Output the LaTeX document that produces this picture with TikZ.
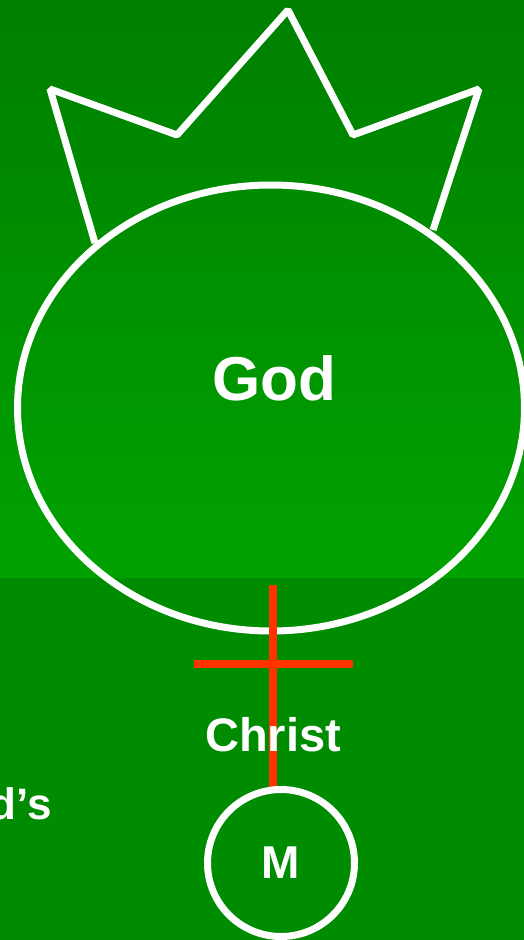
\documentclass[tikz,border=0pt]{standalone}
\usepackage{fontspec}
\setmainfont{Liberation Sans}
\usepackage{tikz}
\usetikzlibrary{shapes.geometric, calc}
\definecolor{topgreen}{RGB}{0,127,0}
\definecolor{midgreen}{RGB}{0,162,0}
\definecolor{lowgreen}{RGB}{0,140,0}
\definecolor{crossred}{RGB}{255,51,0}

\begin{document}
\begin{tikzpicture}[x=1pt,y=-1pt,
  ring/.style={draw=white,line width=7pt,inner sep=0pt},
  label/.style={text=white,font=\bfseries,inner sep=0pt},
  crossbar/.style={draw=crossred,line width=8pt}]
  \clip (0,0) rectangle (524,940);
  % background
  \shade[top color=topgreen,bottom color=midgreen] (0,0) rectangle (524,578);
  \fill[lowgreen] (0,578) rectangle (524,940);
  % crown and ring
  \draw[white,line width=7pt,line join=bevel]
    (95,243)--(50,89)--(177,135)--(288,10)--(353,135)--(479,89)--(433,230);
  \node[ring,ellipse,minimum width=507pt,minimum height=446pt] (god) at (271,408) {};
  \node[label,font=\bfseries\fontsize{62}{62}\selectfont] (godname) at (274,378) {God};
  % cross
  \coordinate (crosstop) at (273,585);
  \coordinate (crossfoot) at (273,793);
  \draw[crossbar] (crosstop)--(crossfoot);
  \draw[crossbar] (194,664)--(353,664);
  \node[label,font=\bfseries\fontsize{47}{47}\selectfont] (christ) at (273,735) {Christ};
  % man
  \node[ring,circle,minimum size=147pt] (man) at (281,863) {};
  \node[label,font=\bfseries\fontsize{46}{46}\selectfont] (mname) at (281,863) {M};
  \node[label,anchor=east,font=\bfseries\fontsize{44}{44}\selectfont] (gods) at (52,804) {God’s};
\end{tikzpicture}
\end{document}
